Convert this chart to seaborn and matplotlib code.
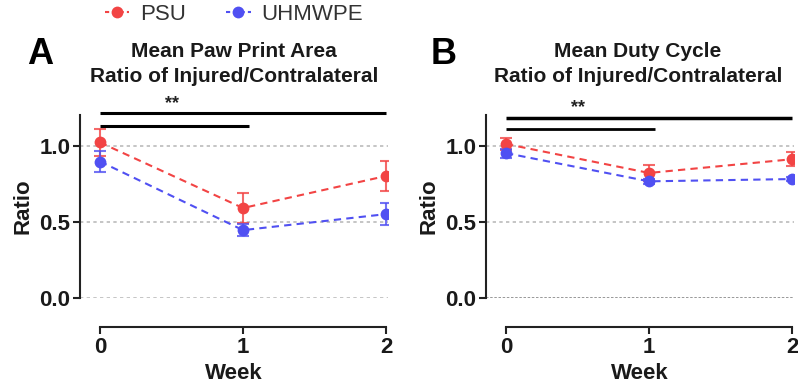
import numpy as np
import pandas as pd
import matplotlib
matplotlib.use("Agg")
import matplotlib.pyplot as plt
import seaborn as sns

sns.set_theme(style="white")
plt.rcParams['font.family'] = ['Liberation Sans', 'DejaVu Sans']

weeks = [0, 1, 2]
groups = ["PSU", "UHMWPE"]
colors = {"PSU": "#F24444", "UHMWPE": "#5050F2"}

# Panel A: Mean Paw Print Area ratio
a_psu = [1.02, 0.59, 0.80]
a_psu_err = [0.09, 0.10, 0.10]
a_uh = [0.895, 0.445, 0.55]
a_uh_err = [0.07, 0.04, 0.07]

# Panel B: Mean Duty Cycle ratio
b_psu = [1.01, 0.82, 0.91]
b_psu_err = [0.04, 0.05, 0.045]
b_uh = [0.95, 0.765, 0.78]
b_uh_err = [0.03, 0.015, 0.015]

titles = ["Mean Paw Print Area\nRatio of Injured/Contralateral",
          "Mean Duty Cycle\nRatio of Injured/Contralateral"]
letters = ["A", "B"]
sig_text = "**"
# significance bars: (x_start, x_end, y)
sig_a = [(0, 2, 1.21), (0, 1.04, 1.13)]
sig_b = [(0, 2, 1.18), (0, 1.04, 1.11)]

fig = plt.figure(figsize=(7.98, 3.83), dpi=100)
W, H = 798, 383
axA = fig.add_axes([80 / W, 1 - 298 / H, 308 / W, (298 - 115) / H])
axB = fig.add_axes([486 / W, 1 - 298 / H, 308 / W, (298 - 115) / H])

panels = [
    (axA, a_psu, a_psu_err, a_uh, a_uh_err, sig_a),
    (axB, b_psu, b_psu_err, b_uh, b_uh_err, sig_b),
]
title_x = [234, 638]
letter_xy = [(40, 55), (444, 54)]

for i, (ax, psu, psu_e, uh, uh_e, sigs) in enumerate(panels):
    df = pd.DataFrame({
        "Week": weeks * 2,
        "Ratio": psu + uh,
        "err": psu_e + uh_e,
        "Group": ["PSU"] * 3 + ["UHMWPE"] * 3,
    })
    for y0 in [0.0, 0.5, 1.0]:
        if i == 1 and y0 == 0.0:
            ax.axhline(y0, color="#888888", lw=1.2, ls=(0, (1.5, 1)), zorder=0)
        else:
            ax.axhline(y0, color="#BBBBBB", lw=1.2, ls=(0, (2, 2)), zorder=0)
    sns.lineplot(data=df, x="Week", y="Ratio", hue="Group", palette=colors,
                 marker="o", markersize=8.5, markeredgewidth=0, dashes=False,
                 ax=ax, legend=(i == 0), zorder=3)
    for line in ax.get_lines()[3:]:
        line.set_linestyle((0, (3.5, 2.5)))
        line.set_linewidth(1.5)
    for g in groups:
        sub = df[df.Group == g]
        ax.errorbar(sub.Week, sub.Ratio, yerr=sub.err, fmt="none",
                    ecolor=colors[g], elinewidth=1.5, capsize=4, capthick=1.5,
                    alpha=0.8, zorder=2)
    ax.set_xlim(-0.14, 2.014)
    ax.set_ylim(0, 1.2)
    ax.set_xticks(weeks)
    ax.set_yticks([0.0, 0.5, 1.0])
    ax.set_yticklabels(["0.0", "0.5", "1.0"])
    for s in ["top", "right"]:
        ax.spines[s].set_visible(False)
    ax.spines["bottom"].set_position(("outward", 21))
    ax.spines["bottom"].set_bounds(0, 2)
    ax.spines["left"].set_bounds(0, 1.2)
    for s in ["bottom", "left"]:
        ax.spines[s].set_color("#222222")
        ax.spines[s].set_linewidth(1.5)
    ax.tick_params(axis="both", which="both", length=5, width=1.5,
                   color="#222222", labelsize=16, pad=2, bottom=True, left=True)
    for lab in ax.get_xticklabels() + ax.get_yticklabels():
        lab.set_fontweight("bold")
        lab.set_color("#1a1a1a")
    ax.set_xlabel("Week", fontsize=16, fontweight="bold", labelpad=4,
                  color="#1a1a1a")
    ax.set_ylabel("Ratio", fontsize=16, fontweight="bold", labelpad=4,
                  color="#1a1a1a")
    fig.text(title_x[i] / W, 1 - 82 / H, titles[i], ha="center", va="baseline",
             fontsize=15, fontweight="bold", linespacing=1.43, color="#1a1a1a")
    fig.text(letter_xy[i][0] / W, 1 - letter_xy[i][1] / H, letters[i],
             fontsize=26, fontweight="bold", ha="center", va="center",
             color="black")
    for (x0, x1, yy), lw in zip(sigs, [2.5, 2.0]):
        ax.plot([x0, x1], [yy, yy], color="black", lw=lw if i == 1 else 2.2,
                clip_on=False, solid_capstyle="butt")
    ax.text(0.5, sigs[0][2] + 0.01, sig_text, ha="center", va="bottom",
            fontsize=13, fontweight="bold", color="#222222")

handles, labels = axA.get_legend_handles_labels()
axA.legend_.remove()
for h in handles:
    h.set_linestyle((0, (2, 1.5)))
fig.legend(handles, labels, loc="center", bbox_to_anchor=(234 / W, 1 - 14 / H),
           ncol=2, frameon=False, fontsize=16, handlelength=1.1,
           columnspacing=1.8, handletextpad=0.5, labelcolor="#333333")

fig.savefig("out.png", dpi=100)
